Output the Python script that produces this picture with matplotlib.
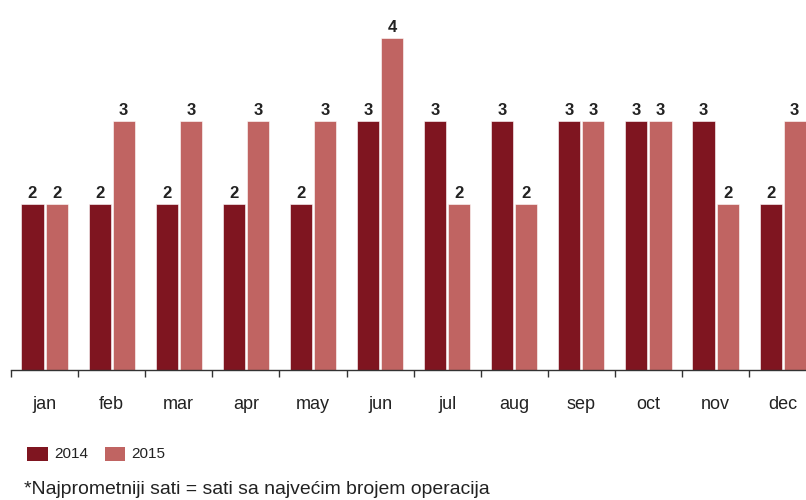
import matplotlib
matplotlib.use("Agg")
import matplotlib.pyplot as plt
import numpy as np
from matplotlib.patches import Rectangle

months = ["jan", "feb", "mar", "apr", "may", "jun", "jul", "aug", "sep", "oct", "nov", "dec"]
values_2014 = [2, 2, 2, 2, 2, 3, 3, 3, 3, 3, 3, 2]
values_2015 = [2, 3, 3, 3, 3, 4, 2, 2, 3, 3, 2, 3]
series_names = ["2014", "2015"]
footnote = "*Najprometniji sati = sati sa najvećim brojem operacija"

color_2014 = "#7F1520"
color_2015 = "#C06462"
text_color = "#222222"

plt.rcParams["font.family"] = ["Liberation Sans", "DejaVu Sans"]

W, H = 806, 500
fig = plt.figure(figsize=(W / 100, H / 100), dpi=100)

cat_px = 67.1
left_px = 11
base_px = 370
unit_px = 83.0
ax = fig.add_axes([left_px / W, (H - base_px) / H, (W - left_px) / W, base_px / H])

x = np.arange(len(months))
bw = 0.33
off = 0.18
b1 = ax.bar(x - off, values_2014, width=bw, color=color_2014, edgecolor="white", linewidth=0.4)
b2 = ax.bar(x + off, values_2015, width=bw, color=color_2015, edgecolor="white", linewidth=0.4)

for bars, vals in ((b1, values_2014), (b2, values_2015)):
    for rect, v in zip(bars, vals):
        ax.annotate(str(v), (rect.get_x() + rect.get_width() / 2, v),
                    xytext=(0, 2), textcoords="offset points",
                    ha="center", va="bottom", fontsize=12, fontweight="bold",
                    color=text_color)

for s in ("top", "right", "left"):
    ax.spines[s].set_visible(False)
ax.spines["bottom"].set_color("#333333")
ax.spines["bottom"].set_linewidth(1.0)
ax.set_yticks([])

ax.set_xticks(x)
ax.set_xticklabels(months, fontsize=13, color=text_color)
ax.tick_params(axis="x", which="major", length=0, pad=18.5)
ax.set_xticks(np.arange(-0.5, len(months), 1.0), minor=True)
ax.tick_params(axis="x", which="minor", length=5, width=1.0, color="#333333", direction="out")

# limits set after the ticks so the tick setters do not widen the view
ax.set_xlim(-0.5, -0.5 + (W - left_px) / cat_px)
ax.set_ylim(0, base_px / unit_px)

# legend drawn in figure pixel coordinates
def px(xp, yp):
    return xp / W, 1 - yp / H

for (sx, sw, tx), name, col in zip(((27, 21, 54), (105, 20, 131)), series_names, (color_2014, color_2015)):
    fig.patches.append(Rectangle(px(sx, 461), sw / W, 14 / H, transform=fig.transFigure,
                                 facecolor=col, edgecolor="none"))
    fig.text(*px(tx, 454), name, fontsize=11, color=text_color, va="center", ha="left")

fig.text(*px(24, 490), footnote, fontsize=13.95, color=text_color, va="center", ha="left")

fig.savefig("out.png", dpi=100)
